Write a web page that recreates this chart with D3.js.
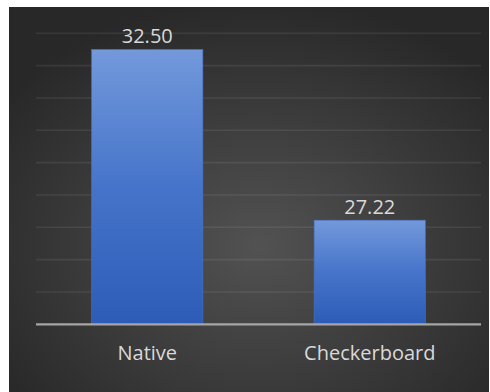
<!DOCTYPE html>
<html>
<head>
<meta charset="utf-8">
<script src="https://cdn.jsdelivr.net/npm/d3@7"></script>
<style>
  html, body { margin: 0; padding: 0; background: #ffffff; }
  svg { display: block; }
</style>
</head>
<body>
<svg id="chart" width="490" height="392"></svg>
<script>
const categories = ["Native", "Checkerboard"];
const values = [32.50, 27.22];
const valueLabels = ["32.50", "27.22"];
const yTicks = [24, 25, 26, 27, 28, 29, 30, 31, 32, 33];

const svg = d3.select("#chart");
const defs = svg.append("defs");

const bg = defs.append("radialGradient").attr("id", "bg")
  .attr("cx", "52%").attr("cy", "62%").attr("r", "65%");
bg.append("stop").attr("offset", "0%").attr("stop-color", "#525252");
bg.append("stop").attr("offset", "100%").attr("stop-color", "#282828");

const barGrad = defs.append("linearGradient").attr("id", "barGrad")
  .attr("x1", 0).attr("y1", 0).attr("x2", 0).attr("y2", 1);
barGrad.append("stop").attr("offset", "0%").attr("stop-color", "#7399db");
barGrad.append("stop").attr("offset", "50%").attr("stop-color", "#4674ca");
barGrad.append("stop").attr("offset", "100%").attr("stop-color", "#2d5cb8");

// chart area background
svg.append("rect").attr("x", 9).attr("y", 7).attr("width", 480).attr("height", 385)
  .attr("fill", "url(#bg)");

const x = d3.scaleBand().domain(categories).range([36, 481]).paddingInner(0.5).paddingOuter(0.25);
const y = d3.scaleLinear().domain([24, 33]).range([324.3, 33.3]);

// gridlines
svg.append("g").selectAll("line")
  .data(yTicks.filter(t => t > 24))
  .join("line")
  .attr("x1", 36).attr("x2", 481)
  .attr("y1", d => y(d)).attr("y2", d => y(d))
  .attr("stroke", "#ffffff").attr("stroke-opacity", 0.08).attr("stroke-width", 1.6);

// bars
svg.append("g").selectAll("rect")
  .data(values)
  .join("rect")
  .attr("x", (d, i) => x(categories[i]))
  .attr("width", x.bandwidth())
  .attr("y", d => y(d))
  .attr("height", d => y(24) - y(d))
  .attr("fill", "url(#barGrad)")
  .attr("stroke", "#4a72c0").attr("stroke-width", 0.6);

// axis line
const xAxis = d3.axisBottom(x).tickSize(0).tickPadding(22);
const ax = svg.append("g").attr("transform", `translate(0,${y(24)})`).call(xAxis);
ax.select(".domain").attr("d", "M36,0H481").attr("stroke", "#a6a6a6").attr("stroke-width", 2.2);
ax.selectAll("text")
  .attr("fill", "#d9d9d9")
  .attr("font-family", "'Open Sans', sans-serif")
  .attr("font-size", 20);

// value labels
svg.append("g").selectAll("text")
  .data(values)
  .join("text")
  .attr("x", (d, i) => x(categories[i]) + x.bandwidth() / 2)
  .attr("y", d => y(d) - 6)
  .attr("text-anchor", "middle")
  .attr("fill", "#d9d9d9")
  .attr("font-family", "'Open Sans', sans-serif")
  .attr("font-size", 20)
  .text((d, i) => valueLabels[i]);
</script>
</body>
</html>
